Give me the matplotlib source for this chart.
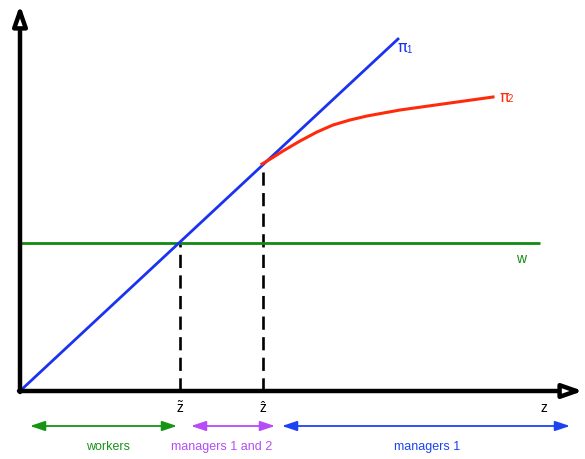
import matplotlib
matplotlib.use("Agg")
import matplotlib.pyplot as plt

plt.rcParams['font.family'] = ['Liberation Sans', 'DejaVu Sans']
plt.rcParams['mathtext.fontset'] = 'custom'
plt.rcParams['mathtext.rm'] = 'Liberation Sans'
plt.rcParams['mathtext.it'] = 'Liberation Sans'

# ---- data (abstract units) ----
z_tilde = 160
z_hat = 243
w_level = 148
z_axis_end = 563
y_axis_end = 386

pi1_z = [0, 378]
pi1_y = [0, 352]

pi2_z = [242, 252, 263, 280, 297, 313, 330, 347, 380, 430, 473]
pi2_y = [227, 233, 240, 250, 259, 266, 271, 275, 281, 288, 294]

w_z = [0, 520]
w_y = [w_level, w_level]

dashed_z = [z_tilde, z_hat]
dashed_top = [w_level, 226]

tick_labels = [r'$\mathrm{\tilde{z}}$', r'$\mathrm{\hat{z}}$', 'z']
tick_pos = [z_tilde, z_hat, 524]

region_labels = ['workers', 'managers 1 and 2', 'managers 1']
region_start = [10, 171, 262]
region_end = [157, 255, 550]
region_text_x = [88, 202, 407]
region_colors = ['#169416', '#b54cf7', '#1b43f2']

# ---- figure ----
fig = plt.figure(figsize=(5.85, 4.60), dpi=100)
ax = fig.add_axes([0, 0, 1, 1])
ax.set_xlim(-20, 565)
ax.set_ylim(-68, 392)
ax.axis('off')

blue = '#1b33f0'
red = '#ff2a0a'
green = '#128a12'

ax.plot(w_z, w_y, color=green, lw=2.0, solid_capstyle='butt', zorder=2)
ax.plot(pi1_z, pi1_y, color=blue, lw=2.0, zorder=3)
ax.plot(pi2_z, pi2_y, color=red, lw=2.2, zorder=3, solid_joinstyle='round')

for zx, top in zip(dashed_z, dashed_top):
    ax.plot([zx, zx], [0, top], color='black', lw=1.9,
            linestyle=(0, (5, 2.8)), zorder=1)

# axes arrows
ax.annotate('', xy=(0, y_axis_end), xytext=(0, -1),
            arrowprops=dict(arrowstyle='-|>,head_length=1.2,head_width=0.42',
                            lw=3.2, fc='white', ec='black', shrinkA=0, shrinkB=0),
            zorder=5)
ax.annotate('', xy=(z_axis_end, 0), xytext=(-1, 0),
            arrowprops=dict(arrowstyle='-|>,head_length=1.2,head_width=0.42',
                            lw=3.2, fc='white', ec='black', shrinkA=0, shrinkB=0),
            zorder=5)

# line labels
pi_font = ['DejaVu Sans']
ax.text(377, 344, 'π', color=blue, fontsize=11.5, ha='left', va='center', family=pi_font)
ax.text(386, 342, '1', color=blue, fontsize=7, ha='left', va='center')
ax.text(479, 295, 'π', color=red, fontsize=11.5, ha='left', va='center', family=pi_font)
ax.text(488, 293, '2', color=red, fontsize=7, ha='left', va='center')
ax.text(501, 133, 'w', color=green, fontsize=10, ha='center', va='center')

for lab, xp in zip(tick_labels, tick_pos):
    ax.text(xp, -16, lab, fontsize=10, ha='center', va='center', color='black')

for lab, s, e, tx, c in zip(region_labels, region_start, region_end,
                            region_text_x, region_colors):
    ax.annotate('', xy=(e, -35), xytext=(s, -35),
                arrowprops=dict(arrowstyle='<|-|>,head_length=0.9,head_width=0.3',
                                lw=1.3, color=c, shrinkA=0, shrinkB=0))
    ax.text(tx, -55, lab, color=c, fontsize=9, ha='center', va='center')

fig.savefig('out.png', dpi=100)
